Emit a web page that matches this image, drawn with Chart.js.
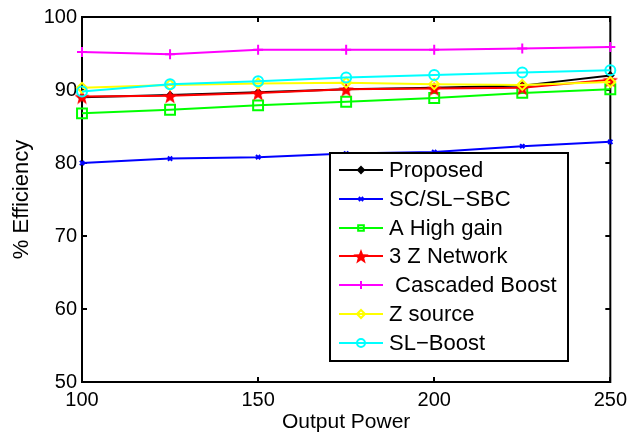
<!DOCTYPE html>
<html>
<head>
<meta charset="utf-8">
<script src="https://cdn.jsdelivr.net/npm/chart.js@4.4.1/dist/chart.umd.min.js"></script>
<style>
html, body { margin: 0; padding: 0; background: #fff; }
</style>
</head>
<body>
<canvas id="line-chart" width="633" height="438"></canvas>
<script>
// data
var power = [100, 125, 150, 175, 200, 225, 250];
var proposed  = [89.0, 89.3, 89.7, 90.1, 90.3, 90.6, 92.0];
var scslSbc   = [80.0, 80.6, 80.8, 81.3, 81.5, 82.3, 82.9];
var highGain  = [86.8, 87.3, 87.9, 88.4, 88.9, 89.6, 90.1];
var zNetwork  = [89.1, 89.2, 89.6, 90.1, 90.2, 90.3, 91.4];
var cascaded  = [95.2, 94.9, 95.5, 95.5, 95.5, 95.7, 95.9];
var zSource   = [90.3, 90.7, 90.9, 91.0, 90.8, 90.7, 91.1];
var slBoost   = [89.8, 90.8, 91.2, 91.7, 92.05, 92.4, 92.7];

var seriesNames = ['Proposed', 'SC/SL\u2212SBC', 'A High gain', '3 Z Network', ' Cascaded Boost', 'Z source', 'SL\u2212Boost'];
var yTicks = [50, 60, 70, 80, 90, 100];
var xTicks = [100, 150, 200, 250];

var FONT = '"Liberation Sans", Arial, Helvetica, sans-serif';

// filled pentagram for the 3 Z Network marker
function makeStar(size, color) {
    var c = document.createElement('canvas');
    c.width = size; c.height = size;
    var g = c.getContext('2d');
    var R = size / 2, r = R * 0.42, cx = size / 2, cy = size / 2 + 1;
    g.beginPath();
    for (var i = 0; i < 10; i++) {
        var rad = (i % 2 === 0) ? R : r;
        var a = -Math.PI / 2 + i * Math.PI / 5;
        var px = cx + rad * Math.cos(a), py = cy + rad * Math.sin(a);
        if (i === 0) g.moveTo(px, py); else g.lineTo(px, py);
    }
    g.closePath();
    g.fillStyle = color;
    g.fill();
    return c;
}
var starImg = makeStar(16, '#ff0000');

function pts(vals) {
    return power.map(function (p, i) { return { x: p, y: vals[i] }; });
}

function ds(i, vals, color, style, radius, fill) {
    return {
        label: seriesNames[i],
        data: pts(vals),
        borderColor: color,
        backgroundColor: fill ? color : 'rgba(0,0,0,0)',
        pointBorderColor: color,
        pointBackgroundColor: fill ? color : 'rgba(0,0,0,0)',
        borderWidth: 2,
        pointStyle: style,
        pointRadius: radius,
        pointBorderWidth: 2,
        tension: 0,
        clip: false,
        order: 6 - i
    };
}

var datasets = [
    ds(0, proposed, '#000000', 'rectRot', 3, true),
    ds(1, scslSbc, '#0000ff', 'crossRot', 3, false),
    ds(2, highGain, '#00ff00', 'rect', 7, false),
    ds(3, zNetwork, '#ff0000', starImg, 8, true),
    ds(4, cascaded, '#ff00ff', 'cross', 5, false),
    ds(5, zSource, '#ffff00', 'rectRot', 5, false),
    ds(6, slBoost, '#00ffff', 'circle', 5, false)
];

// black box with inward ticks, like the original axes
var framePlugin = {
    id: 'frame',
    beforeDatasetsDraw: function (chart) {
        var ctx = chart.ctx, a = chart.chartArea;
        var xs = chart.scales.x, ys = chart.scales.y;
        ctx.save();
        ctx.strokeStyle = '#000';
        ctx.lineWidth = 2;
        ctx.strokeRect(a.left, a.top, a.right - a.left, a.bottom - a.top);
        ctx.beginPath();
        yTicks.forEach(function (v) {
            var y = Math.round(ys.getPixelForValue(v));
            ctx.moveTo(a.left, y); ctx.lineTo(a.left + 5, y);
            ctx.moveTo(a.right, y); ctx.lineTo(a.right - 5, y);
        });
        xTicks.forEach(function (v) {
            var x = Math.round(xs.getPixelForValue(v));
            ctx.moveTo(x, a.bottom); ctx.lineTo(x, a.bottom - 5);
            ctx.moveTo(x, a.top); ctx.lineTo(x, a.top + 5);
        });
        ctx.stroke();
        ctx.restore();
    }
};

// legend box drawn inside the plot, lower right
var boxLegend = {
    id: 'boxLegend',
    afterDraw: function (chart) {
        var ctx = chart.ctx;
        var left = 330, top = 153, w = 238, h = 208;
        var rowH = 28.8, firstRow = top + 17;
        ctx.save();
        ctx.fillStyle = '#fff';
        ctx.fillRect(left, top, w, h);
        ctx.strokeStyle = '#000';
        ctx.lineWidth = 2;
        ctx.strokeRect(left, top, w, h);
        chart.data.datasets.forEach(function (d, i) {
            var y = Math.round(firstRow + i * rowH);
            ctx.strokeStyle = d.borderColor;
            ctx.lineWidth = 2;
            ctx.beginPath();
            ctx.moveTo(left + 9, y);
            ctx.lineTo(left + 53, y);
            ctx.stroke();
            ctx.fillStyle = d.pointBackgroundColor;
            ctx.strokeStyle = d.pointBorderColor;
            var r = Math.min(d.pointRadius, 4);
            if (d.pointStyle === starImg) r = 8;
            Chart.helpers.drawPoint(ctx, { pointStyle: d.pointStyle, radius: r, rotation: 0, borderWidth: 2 }, left + 31, y);
            ctx.fillStyle = '#000';
            ctx.font = '22px ' + FONT;
            ctx.textBaseline = 'middle';
            ctx.textAlign = 'left';
            ctx.fillText(d.label, left + 59, y + 1);
        });
        ctx.restore();
    }
};

new Chart(document.getElementById('line-chart'), {
    type: 'line',
    data: { datasets: datasets },
    options: {
        responsive: false,
        animation: false,
        layout: { padding: { top: 15, right: 21, left: 0, bottom: 0 } },
        plugins: {
            legend: { display: false },
            tooltip: { enabled: false }
        },
        scales: {
            x: {
                type: 'linear',
                min: 100,
                max: 250,
                afterFit: function (s) { s.height = 56; },
                afterBuildTicks: function (s) { s.ticks = xTicks.map(function (v) { return { value: v }; }); },
                grid: { display: false, drawTicks: false },
                border: { display: false },
                ticks: { color: '#000', padding: 6, maxRotation: 0, font: { family: FONT, size: 20 } },
                title: { display: true, text: 'Output Power', color: '#000', padding: { top: 0, bottom: 3 }, font: { family: FONT, size: 21 } }
            },
            y: {
                min: 50,
                max: 100,
                afterFit: function (s) { s.width = 82; },
                afterBuildTicks: function (s) { s.ticks = yTicks.map(function (v) { return { value: v }; }); },
                grid: { display: false, drawTicks: false },
                border: { display: false },
                ticks: { color: '#000', padding: 5, font: { family: FONT, size: 20 } },
                title: { display: true, text: '% Efficiency', color: '#000', padding: { top: 9, bottom: 0 }, font: { family: FONT, size: 22 } }
            }
        }
    },
    plugins: [framePlugin, boxLegend]
});
</script>
</body>
</html>
